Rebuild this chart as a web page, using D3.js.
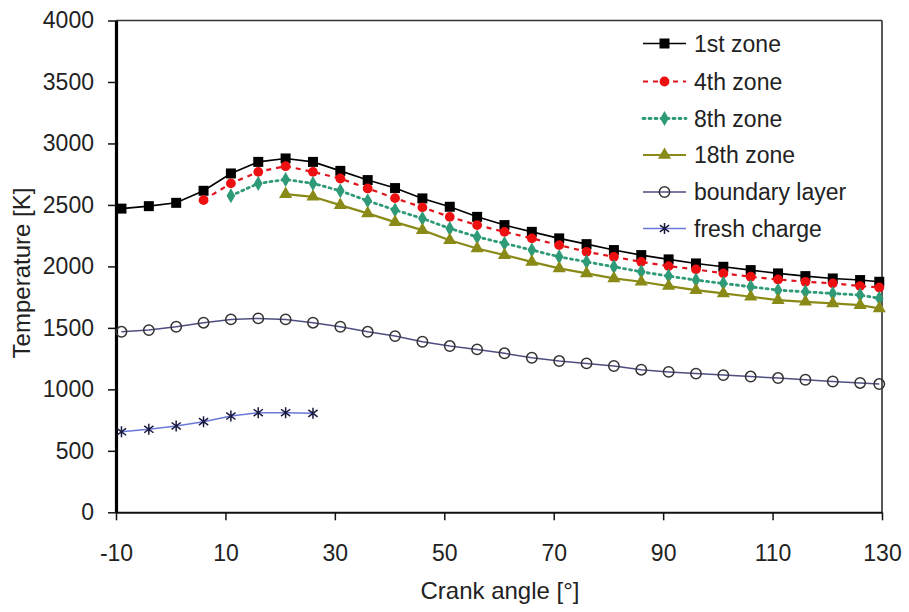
<!DOCTYPE html>
<html>
<head>
<meta charset="utf-8">
<script src="https://cdn.jsdelivr.net/npm/d3@7"></script>
<style>
  html, body { margin: 0; padding: 0; background: #fff; }
  svg { display: block; }
  text { font-family: "Liberation Sans", Arial, sans-serif; fill: #222; }
</style>
</head>
<body>
<svg id="chart" width="909" height="612"></svg>
<script>
// ---- data ----
const angles = [-9,-4,1,6,11,16,21,26,31,36,41,46,51,56,61,66,71,76,81,86,91,96,101,106,111,116,121,126,129.5];
const zone1 = [2470,2490,2517,2615,2756,2850,2878,2850,2777,2702,2637,2553,2485,2403,2336,2281,2228,2181,2133,2092,2057,2024,1997,1970,1943,1921,1902,1889,1875];
const zone4 = [null,null,null,2539,2675,2769,2815,2769,2715,2634,2555,2480,2403,2336,2281,2228,2173,2119,2078,2037,2002,1976,1943,1916,1894,1875,1862,1840,1829];
const zone8 = [null,null,null,null,2574,2675,2707,2675,2615,2533,2459,2390,2309,2240,2187,2133,2078,2037,1997,1956,1921,1889,1862,1834,1807,1793,1780,1767,1740];
const zone18 = [null,null,null,null,null,null,2588,2566,2498,2431,2360,2295,2213,2146,2092,2037,1984,1943,1902,1875,1840,1807,1780,1753,1726,1712,1699,1685,1658];
const boundary = [1468,1482,1509,1542,1569,1577,1569,1542,1509,1468,1433,1387,1352,1325,1293,1257,1230,1211,1190,1160,1142,1128,1116,1104,1092,1078,1064,1052,1043];
const fresh = [655,675,702,737,783,810,810,805];
const seriesNames = ["1st zone","4th zone","8th zone","18th zone","boundary layer","fresh charge"];
const xTicks = [-10,10,30,50,70,90,110,130];
const yTicks = [0,500,1000,1500,2000,2500,3000,3500,4000];
const xTitle = "Crank angle [°]";
const yTitle = "Temperature [K]";

// ---- layout ----
const svg = d3.select("#chart");
const x = d3.scaleLinear().domain([-10,130]).range([116,882]);
const y = d3.scaleLinear().domain([0,4000]).range([512.3,20.5]);

svg.append("rect").attr("width",909).attr("height",612).attr("fill","#fff");

// frame top/right
svg.append("line").attr("x1",x(-10)).attr("x2",x(130)).attr("y1",y(4000)).attr("y2",y(4000))
  .attr("stroke","#333").attr("stroke-width",1.5);
svg.append("line").attr("x1",x(130)).attr("x2",x(130)).attr("y1",y(4000)).attr("y2",y(0))
  .attr("stroke","#222").attr("stroke-width",1.5);

// axes
const gx = svg.append("g").attr("transform",`translate(0,${y(0)})`)
  .call(d3.axisBottom(x).tickValues(xTicks).tickSize(8).tickSizeOuter(0).tickPadding(24).tickFormat(d => String(d)));
gx.select(".domain").attr("stroke","#111").attr("stroke-width",2);
gx.selectAll(".tick line").attr("stroke","#111").attr("stroke-width",1.5);
gx.selectAll(".tick text").attr("font-size",23).attr("fill","#222")
  .style("font-family",'"Liberation Sans", Arial, sans-serif');

const gy = svg.append("g").attr("transform",`translate(${x(-10)},0)`)
  .call(d3.axisLeft(y).tickValues(yTicks).tickSize(8).tickSizeOuter(0).tickPadding(14).tickFormat(d => String(d)));
gy.select(".domain").attr("stroke","#000").attr("stroke-width",3.2);
gy.selectAll(".tick line").attr("stroke","#111").attr("stroke-width",1.5);
gy.selectAll(".tick text").attr("font-size",23).attr("fill","#222")
  .style("font-family",'"Liberation Sans", Arial, sans-serif');

// titles
svg.append("text").attr("x",500).attr("y",599).attr("text-anchor","middle")
  .attr("font-size",24).text(xTitle);
svg.append("text").attr("transform","translate(30,273) rotate(-90)").attr("text-anchor","middle")
  .attr("font-size",24).text(yTitle);

// ---- series ----
function asterisk(s){
  const h = s/2, d = s*0.42;
  return `M0,${-h}L0,${h}M${-d},${-d*0.75}L${d},${d*0.75}M${-d},${d*0.75}L${d},${-d*0.75}`;
}
const styles = [
  {color:"#000", dash:null, width:1.6, sym:d3.symbolSquare, size:100, fill:"#000", mstroke:"none"},
  {color:"#e0141c", dash:"5,5", width:2.2, sym:d3.symbolCircle, size:75, fill:"#ee1010", mstroke:"none"},
  {color:"#2e9a78", dash:"2,4", width:2.8, sym:d3.symbolDiamond, size:65, fill:"#2f9a78", mstroke:"none"},
  {color:"#8a8a18", dash:null, width:2.2, sym:d3.symbolTriangle, size:75, fill:"#8a8a18", mstroke:"none"},
  {color:"#4e4e80", dash:null, width:1.5, sym:d3.symbolCircle, size:85, fill:"none", mstroke:"#333"},
  {color:"#6a78d8", dash:null, width:1.5, sym:"ast", size:11, fill:"none", mstroke:"#1a1a40"}
];
const allSeries = [zone1, zone4, zone8, zone18, boundary, fresh];

const plot = svg.append("g");
allSeries.forEach((vals, i) => {
  const st = styles[i];
  const pts = vals.map((v, j) => ({a: angles[j], v})).filter(p => p.v != null);
  const line = d3.line().x(p => x(p.a)).y(p => y(p.v));
  const g = plot.append("g");
  g.append("path").datum(pts).attr("d", line).attr("fill","none")
    .attr("stroke", st.color).attr("stroke-width", st.width)
    .attr("stroke-dasharray", st.dash).attr("stroke-linecap", st.dash === "2,4" ? "round" : "butt");
  g.selectAll("path.m").data(pts).join("path").attr("class","m")
    .attr("transform", p => `translate(${x(p.a)},${y(p.v)})`)
    .attr("d", st.sym === "ast" ? asterisk(st.size) : d3.symbol(st.sym, st.size)())
    .attr("fill", st.fill).attr("stroke", st.mstroke).attr("stroke-width", 1.5);
});

// ---- legend ----
const legY = [43.5, 81.5, 118.5, 155, 192, 228.5];
const leg = svg.append("g");
seriesNames.forEach((name, i) => {
  const st = styles[i];
  const yy = legY[i];
  leg.append("line").attr("x1",643).attr("x2",686).attr("y1",yy).attr("y2",yy)
    .attr("stroke", st.color).attr("stroke-width", st.width).attr("stroke-dasharray", st.dash)
    .attr("stroke-linecap", st.dash === "2,4" ? "round" : "butt");
  leg.append("path").attr("transform",`translate(664.5,${yy})`)
    .attr("d", st.sym === "ast" ? asterisk(st.size) : d3.symbol(st.sym, st.size)())
    .attr("fill", st.fill).attr("stroke", st.mstroke).attr("stroke-width",1.5);
  leg.append("text").attr("x",694).attr("y",yy).attr("dy","0.35em")
    .attr("font-size",23).text(name);
});
</script>
</body>
</html>
